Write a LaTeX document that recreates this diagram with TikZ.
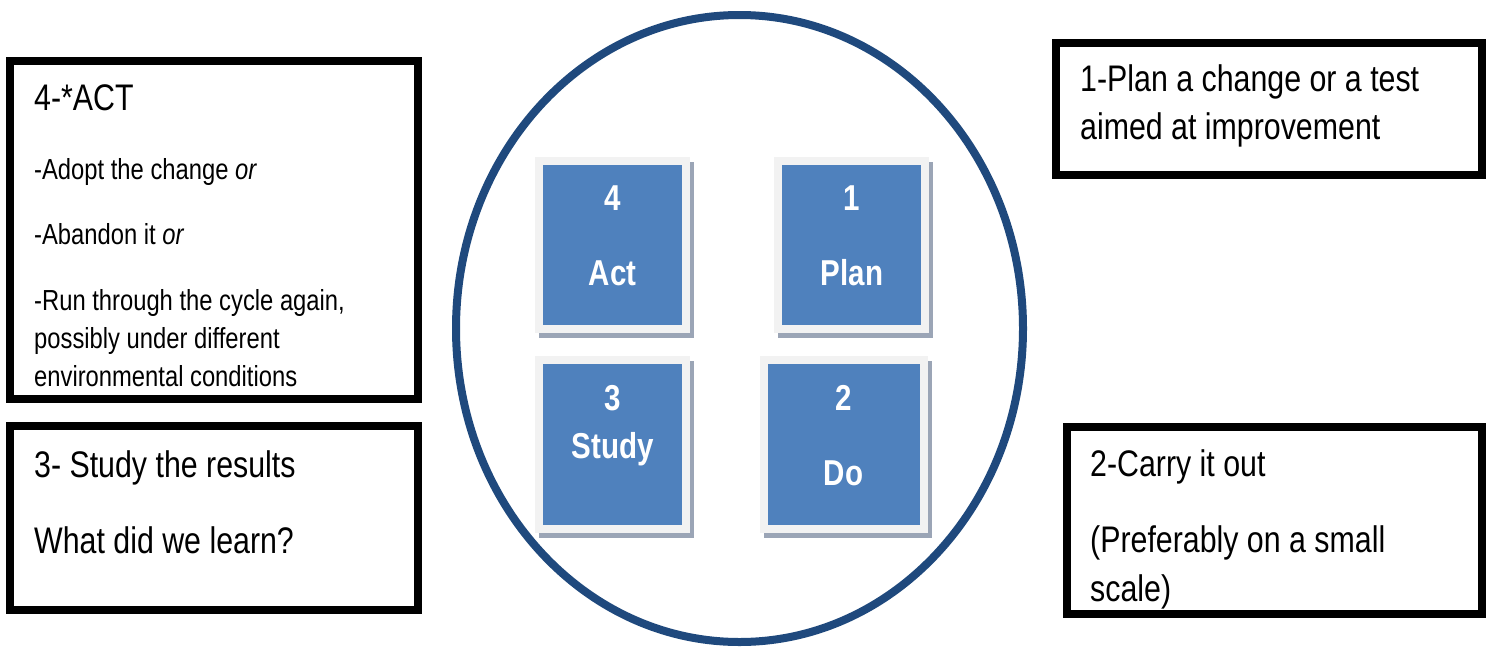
\documentclass[tikz,border=0pt]{standalone}
\usepackage{fontspec}
\setmainfont{Liberation Sans}[FakeStretch=0.82]
\usetikzlibrary{shapes.geometric,shadows}
\definecolor{ringblue}{RGB}{31,73,125}
\definecolor{sqblue}{RGB}{79,129,189}
\definecolor{sqframe}{RGB}{242,242,242}
\definecolor{sqshadow}{RGB}{155,165,182}
\begin{document}
\begin{tikzpicture}[x=1pt,y=-1pt,
  txtbox/.style={draw=black, line width=8pt, rectangle, inner sep=0pt},
  sqbox/.style={rectangle, fill=sqblue, draw=sqframe, line width=8pt, inner sep=0pt,
    minimum width=147pt, minimum height=168pt,
    general shadow={fill=sqshadow, draw=sqshadow, line width=8pt, shadow xshift=4pt, shadow yshift=-5pt}},
  sqtxt/.style={anchor=base, inner sep=0pt, text=white, font=\fontsize{36}{42}\selectfont\bfseries},
  bigtxt/.style={anchor=base west, inner sep=0pt, font=\fontsize{37}{47}\selectfont},
  smalltxt/.style={anchor=base west, inner sep=0pt, font=\fontsize{29}{38}\selectfont}]
\useasboundingbox (0,0) rectangle (1486,646);
\fill[white] (0,0) rectangle (1486,646);

% central ring
\node[ellipse, draw=ringblue, line width=8pt, minimum width=567pt, minimum height=627pt, inner sep=0pt] (ring) at (739.5,328.5) {};

% four squares
\node[sqbox] (sqact) at (612.5,245) {};
\node[sqbox] (sqplan) at (851,245) {};
\node[sqbox, minimum height=169pt] (sqstudy) at (612.5,444.5) {};
\node[sqbox, minimum width=160pt, minimum height=169pt] (sqdo) at (844,444.5) {};

\node[sqtxt] (n4) at (612.5,210) {4};
\node[sqtxt] (lact) at (612.5,285) {Act};
\node[sqtxt] (n1) at (852,210) {1};
\node[sqtxt] (lplan) at (852,285) {Plan};
\node[sqtxt] (n3) at (612.5,410) {3};
\node[sqtxt] (lstudy) at (612.5,458) {Study};
\node[sqtxt] (n2) at (843.5,410) {2};
\node[sqtxt] (ldo) at (843.5,485) {Do};

% text boxes
\node[txtbox, minimum width=408pt, minimum height=338pt] (actbox) at (214,230) {};
\node[txtbox, minimum width=408pt, minimum height=184pt] (studybox) at (214,518) {};
\node[txtbox, minimum width=426pt, minimum height=132pt] (planbox) at (1269,109) {};
\node[txtbox, minimum width=415pt, minimum height=187pt] (carrybox) at (1274.5,520.5) {};

% act box text
\node[bigtxt] (t4) at (34,110) {4-*ACT};
\node[smalltxt] (t4a) at (34,179) {-Adopt the change \textit{or}};
\node[smalltxt] (t4b) at (34,244) {-Abandon it \textit{or}};
\node[smalltxt] (t4c) at (34,310) {-Run through the cycle again,};
\node[smalltxt] (t4d) at (34,348) {possibly under different};
\node[smalltxt] (t4e) at (34,386) {environmental conditions};

% study box text
\node[bigtxt] (t3a) at (34,477) {3- Study the results};
\node[bigtxt] (t3b) at (34,553) {What did we learn?};

% plan box text
\node[bigtxt] (t1a) at (1080,91) {1-Plan a change or a test};
\node[bigtxt] (t1b) at (1080,139) {aimed at improvement};

% carry box text
\node[bigtxt] (t2a) at (1090,476) {2-Carry it out};
\node[bigtxt] (t2b) at (1090,552) {(Preferably on a small};
\node[bigtxt] (t2c) at (1090,601) {scale)};
\end{tikzpicture}
\end{document}
